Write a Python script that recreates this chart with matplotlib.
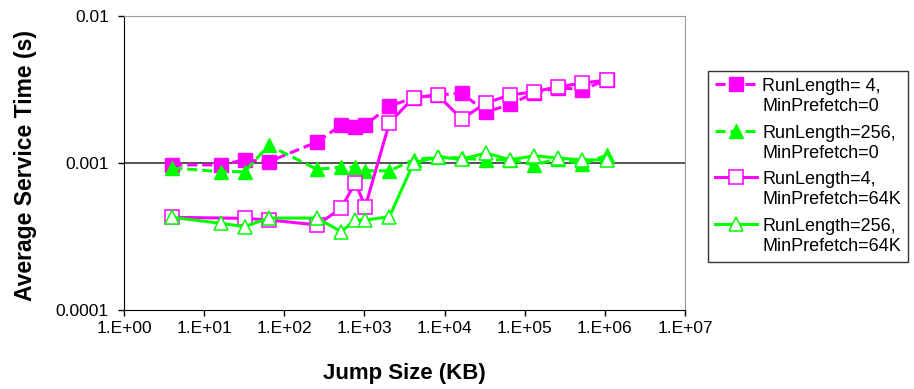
import matplotlib
matplotlib.use("Agg")
import matplotlib.pyplot as plt
from matplotlib import ticker

plt.rcParams['font.family'] = ['Liberation Sans', 'DejaVu Sans']

# jump sizes in KB
jump_kb = [4, 16, 32, 64, 256, 512, 768, 1024, 2048, 4096, 8192, 16384,
           32768, 65536, 131072, 262144, 524288, 1048576]
# RunLength=4 run has no 16 KB point with MinPrefetch=64K
jump_kb_rl4_64k = [4, 32, 64, 256, 512, 768, 1024, 2048, 4096, 8192, 16384,
                   32768, 65536, 131072, 262144, 524288, 1048576]

rl4_mp0 = [0.00097, 0.00097, 0.00105, 0.00102, 0.00139, 0.00181, 0.00177,
           0.00181, 0.00244, 0.00277, 0.00290, 0.00299, 0.00222, 0.00250,
           0.00300, 0.00325, 0.00316, 0.00367]
rl256_mp0 = [0.000925, 0.000873, 0.000873, 0.00132, 0.000906, 0.000935,
             0.000935, 0.000887, 0.000885, 0.00105, 0.00110, 0.00108,
             0.00105, 0.00105, 0.00097, 0.00107, 0.00098, 0.00113]
rl4_mp64k = [0.000427, 0.000420, 0.000410, 0.000379, 0.000492, 0.000735,
             0.000505, 0.00188, 0.00278, 0.00290, 0.00199, 0.00256, 0.00290,
             0.00305, 0.00330, 0.00349, 0.00367]
rl256_mp64k = [0.000427, 0.000389, 0.000369, 0.000422, 0.000422, 0.000341,
               0.000410, 0.000410, 0.000430, 0.00100, 0.00110, 0.00106,
               0.00117, 0.00105, 0.00112, 0.00108, 0.00105, 0.00105]

labels = ["RunLength= 4,\nMinPrefetch=0", "RunLength=256,\nMinPrefetch=0",
          "RunLength=4,\nMinPrefetch=64K", "RunLength=256,\nMinPrefetch=64K"]

MAGENTA = '#FF00FF'
GREEN = '#00FF00'

fig = plt.figure(figsize=(9.14, 3.89), dpi=100)
ax = fig.add_axes([0.1357, 0.2031, 0.6138, 0.7558])

dash = (3.3, 1.6)
ax.plot(jump_kb, rl4_mp0, color=MAGENTA, lw=2.2, dashes=dash,
        marker='s', ms=9.5, mfc=MAGENTA, mec=MAGENTA, label=labels[0])
ax.plot(jump_kb, rl256_mp0, color=GREEN, lw=2.2, dashes=dash,
        marker='^', ms=10, mfc=GREEN, mec=GREEN, label=labels[1])
ax.plot(jump_kb_rl4_64k, rl4_mp64k, color=MAGENTA, lw=2.2,
        marker='s', ms=9.5, mfc='white', mec=MAGENTA, mew=1.1, label=labels[2])
ax.plot(jump_kb, rl256_mp64k, color=GREEN, lw=2.2,
        marker='^', ms=10, mfc='white', mec=GREEN, mew=1.1, label=labels[3])

ax.set_xscale('log')
ax.set_yscale('log')
ax.set_xlim(1, 1e7)
ax.set_ylim(1e-4, 1e-2)

ax.xaxis.set_major_locator(ticker.FixedLocator([10.0 ** k for k in range(8)]))
ax.xaxis.set_minor_locator(ticker.NullLocator())
ax.set_xticklabels(["1.E+%02d" % k for k in range(8)])
ax.yaxis.set_major_locator(ticker.FixedLocator([1e-4, 1e-3, 1e-2]))
ax.yaxis.set_minor_locator(ticker.NullLocator())
ax.set_yticklabels(["0.0001", "0.001", "0.01"])

ax.tick_params(axis='both', direction='out', length=4, width=1, labelsize=12.5)
ax.tick_params(axis='x', pad=4)
ax.tick_params(axis='y', pad=7)

ax.axhline(1e-3, color='#444444', lw=1.3, zorder=0)

for side in ('top', 'right'):
    ax.spines[side].set_color('#999999')
for side in ('left', 'bottom'):
    ax.spines[side].set_color('black')

ax.set_xlabel("Jump Size (KB)", fontsize=16, fontweight='bold')
ax.set_ylabel("Average Service Time (s)", fontsize=16.5, fontweight='bold')
ax.xaxis.set_label_coords(0.5, -0.18)
ax.yaxis.set_label_coords(-0.155, 0.49)

leg = ax.legend(loc='upper left', bbox_to_anchor=(0.7746, 0.817),
                bbox_transform=fig.transFigure, fontsize=13, numpoints=1,
                handlelength=2.3, handletextpad=0.3, borderpad=0.4,
                labelspacing=0.55, fancybox=False, framealpha=1,
                edgecolor='#333333', borderaxespad=0)
leg.get_frame().set_linewidth(1.0)
for t in leg.get_texts():
    t.set_linespacing(1.2)
# line the handles up with the first line of each two-line label
for h in leg.legend_handles:
    h.set_ydata([y + 9 for y in h.get_ydata()])

fig.savefig("out.png", dpi=100)
